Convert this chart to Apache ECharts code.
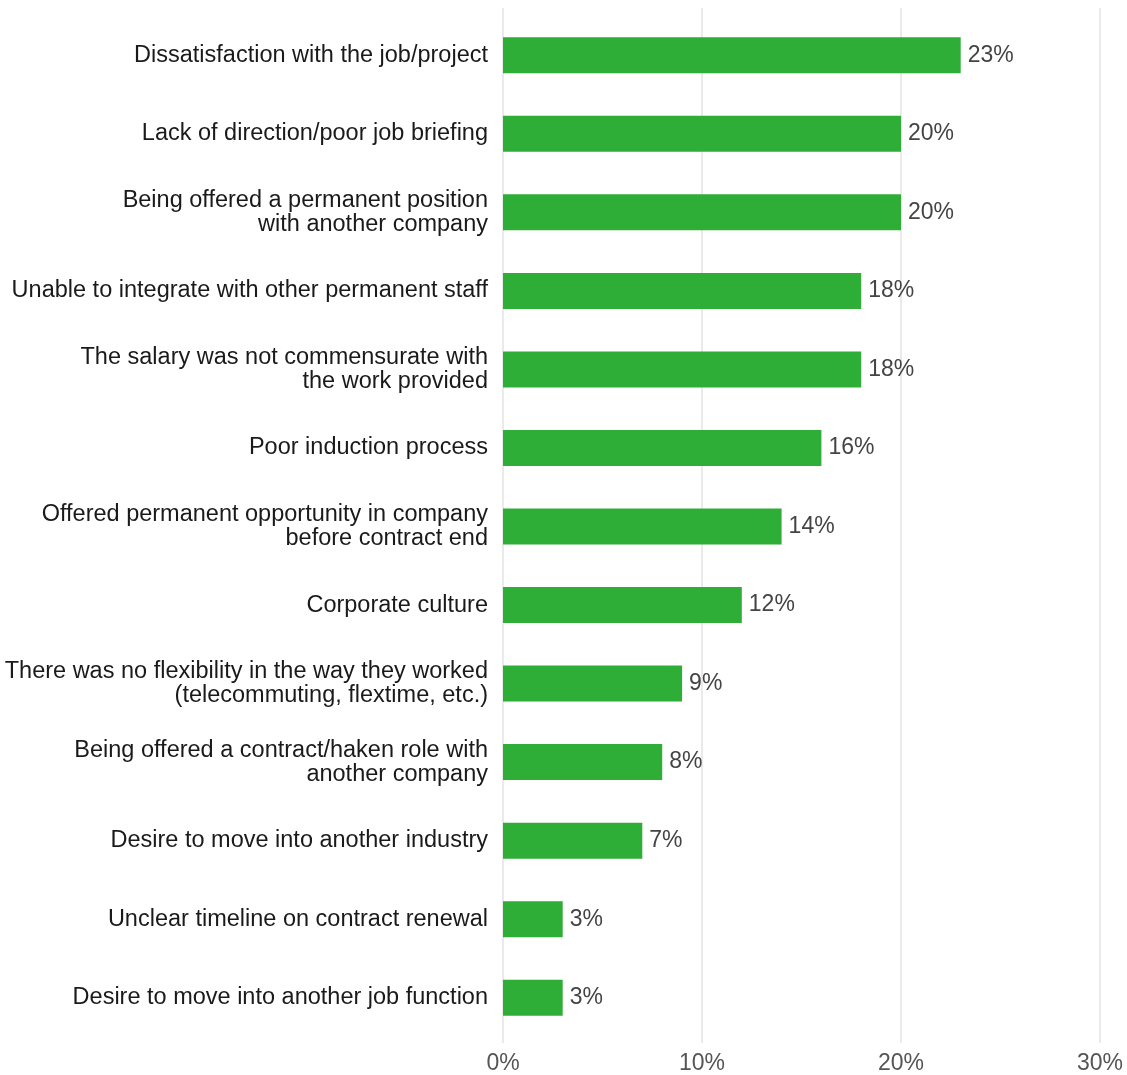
<!DOCTYPE html>
<html>
<head>
<meta charset="utf-8">
<script src="https://cdn.jsdelivr.net/npm/echarts@6/dist/echarts.min.js"></script>
<style>html,body{margin:0;padding:0;background:#fff}#c{width:1127px;height:1075px}</style>
</head>
<body>
<div id="c"></div>
<script>
const categories = [
  "Dissatisfaction with the job/project",
  "Lack of direction/poor job briefing",
  "Being offered a permanent position\nwith another company",
  "Unable to integrate with other permanent staff",
  "The salary was not commensurate with\nthe work provided",
  "Poor induction process",
  "Offered permanent opportunity in company\nbefore contract end",
  "Corporate culture",
  "There was no flexibility in the way they worked\n(telecommuting, flextime, etc.)",
  "Being offered a contract/haken role with\nanother company",
  "Desire to move into another industry",
  "Unclear timeline on contract renewal",
  "Desire to move into another job function"
];
const values = [23, 20, 20, 18, 18, 16, 14, 12, 9, 8, 7, 3, 3];
const xTicks = [0, 10, 20, 30];

const font = "Helvetica, 'Liberation Sans', Arial, sans-serif";
const chart = echarts.init(document.getElementById('c'));
chart.setOption({
  animation: false,
  grid: [
    {left: 503, right: 27, top: 16, bottom: 38},
    {left: 503, right: 27, top: 8, bottom: 32}
  ],
  xAxis: [
    {gridIndex: 0, type: 'value', min: xTicks[0], max: xTicks[xTicks.length-1], interval: 10,
     axisLine: {show: false}, axisTick: {show: false}, splitLine: {show: false},
     axisLabel: {formatter: '{value}%', color: '#555', fontSize: 23, fontFamily: font, margin: 15}},
    {gridIndex: 1, type: 'value', min: xTicks[0], max: xTicks[xTicks.length-1], interval: 10,
     axisLine: {show: false}, axisTick: {show: false}, axisLabel: {show: false},
     splitLine: {show: true, lineStyle: {color: '#e3e3e3', width: 1.5}}}
  ],
  yAxis: [
    {gridIndex: 0, type: 'category', data: categories, inverse: true,
     axisLine: {show: false}, axisTick: {show: false},
     axisLabel: {color: '#1a1a1a', fontSize: 23.5, fontFamily: font, margin: 15, lineHeight: 24, align: 'right'}},
    {gridIndex: 1, type: 'category', data: categories, show: false}
  ],
  series: [{
    type: 'bar', xAxisIndex: 0, yAxisIndex: 0, data: values, barWidth: 36, z: 3,
    itemStyle: {color: '#2eae36'},
    label: {show: true, position: 'right', distance: 7, formatter: '{c}%', color: '#444', fontSize: 23, fontFamily: font}
  }]
});
</script>
</body>
</html>
